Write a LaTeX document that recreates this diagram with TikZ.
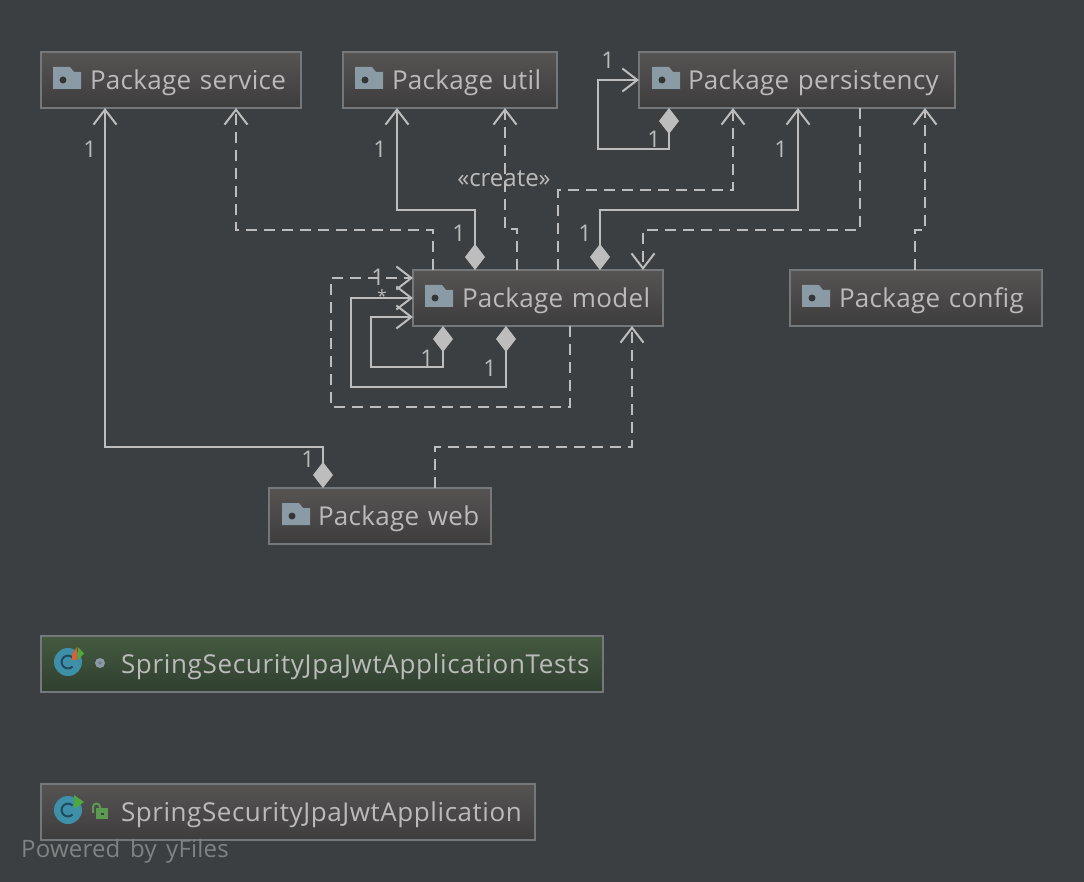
\documentclass[tikz,border=0pt]{standalone}
\usepackage{fontspec}
\setmainfont{Open Sans}
\newfontface\pkgfont[LetterSpace=1.2]{Open Sans}
\newfontface\clsfont[LetterSpace=2.6]{Open Sans}
\newfontface\appfont[LetterSpace=2.2]{Open Sans}
\newfontface\yffont[LetterSpace=0.8,WordSpace=1.5]{Open Sans}
\usetikzlibrary{arrows.meta}
\definecolor{bg}{HTML}{3C3F41}
\definecolor{tx}{HTML}{BBBBBB}
\definecolor{bd}{HTML}{75787A}
\definecolor{ln}{HTML}{BDBDBD}
\definecolor{fold}{HTML}{8A9BA6}
\definecolor{teal1}{HTML}{3E8FA8}
\definecolor{tealdk}{HTML}{1F4A60}
\definecolor{pkgtop}{HTML}{565353}
\definecolor{pkgbot}{HTML}{3E3D3D}
\definecolor{grntop}{HTML}{45593F}
\definecolor{grnbot}{HTML}{2F4030}
\definecolor{gr1}{HTML}{4FA83C}
\definecolor{gr2}{HTML}{5B9A50}
\definecolor{or1}{HTML}{D9622B}
\tikzset{
  box/.style={anchor=north west,draw=bd,line width=2pt,inner sep=0pt,outer sep=0pt,minimum height=56pt,align=left,text=tx},
  pkg/.style={box,top color=pkgtop,bottom color=pkgbot,font=\fontsize{26}{30}\pkgfont},
  cls/.style={box,top color=pkgtop,bottom color=pkgbot,font=\fontsize{26}{30}\appfont},
  grn/.style={box,top color=grntop,bottom color=grnbot,font=\fontsize{26}{30}\clsfont},
  edge/.style={draw=ln,line width=2pt},
  opn/.style={-{Straight Barb[length=15pt,width=23pt,line width=2pt]}},
  dsh/.style={edge,opn,dash pattern=on 11pt off 7pt},
  comp/.style={edge,{Diamond[length=26pt,width=20pt,fill=ln,line width=0pt]}-{Straight Barb[length=15pt,width=23pt,line width=2pt]}},
  card/.style={text=tx,font=\fontsize{23}{26}\selectfont,inner sep=0pt}
}
\newcommand{\foldericon}[2]{%
  \fill[fold] (#1,#2-12) -- (#1+17,#2-12) -- (#1+21,#2-7) -- (#1+28,#2-7) -- (#1+28,#2+10) -- (#1,#2+10) -- cycle;
  \fill[bg!85!black] (#1+10,#2+1) circle (3.5);}
\begin{document}
\begin{tikzpicture}[x=1pt,y=-1pt]
\useasboundingbox (0,0) rectangle (1084,882);
\fill[bg] (0,0) rectangle (1084,882);
\node[pkg,minimum width=260pt,text width=260pt] (service) at (41,52) {\rule{0pt}{25pt}\hspace*{49pt}Package service};
\node[pkg,minimum width=214pt,text width=214pt] (util) at (343,52) {\rule{0pt}{25pt}\hspace*{49pt}Package util};
\node[pkg,minimum width=316pt,text width=316pt] (persist) at (639,52) {\rule{0pt}{25pt}\hspace*{49pt}Package persistency};
\node[pkg,minimum width=250pt,text width=250pt] (model) at (413,270) {\rule{0pt}{25pt}\hspace*{49pt}Package model};
\node[pkg,minimum width=252pt,text width=252pt] (config) at (790,270) {\rule{0pt}{25pt}\hspace*{49pt}Package config};
\node[pkg,minimum width=222pt,text width=222pt] (web) at (269,488) {\rule{0pt}{25pt}\hspace*{49pt}Package web};
\node[grn,minimum width=562pt,text width=562pt] (tests) at (41,636) {\rule{0pt}{25pt}\hspace*{80pt}SpringSecurityJpaJwtApplicationTests};
\node[cls,minimum width=494pt,text width=494pt] (app) at (41,784) {\rule{0pt}{25pt}\hspace*{80pt}SpringSecurityJpaJwtApplication};
\foldericon{53}{79}\foldericon{355}{79}\foldericon{652}{79}\foldericon{425}{297}\foldericon{802}{297}\foldericon{282}{515}
% connectors
\draw[comp] ([xshift=54pt]web.north west) -- (323,447) -- (105,447) -- ([xshift=64pt]service.south west);
\draw[dsh] ([xshift=20pt]model.north west) -- (433,230) -- (236,230) -- ([xshift=195pt]service.south west);
\draw[comp] ([xshift=62pt]model.north west) -- (475,210) -- (397,210) -- ([xshift=54pt]util.south west);
\draw[dsh] ([xshift=104pt]model.north west) -- (517,229) -- (505,229) -- ([xshift=162pt]util.south west);
\draw[dsh] ([xshift=145pt]model.north west) -- (558,190) -- (733,190) -- ([xshift=94pt]persist.south west);
\draw[comp] ([xshift=187pt]model.north west) -- (600,210) -- (798,210) -- ([xshift=159pt]persist.south west);
\draw[dsh] ([xshift=221pt]persist.south west) -- (860,230) -- (643,230) -- ([xshift=230pt]model.north west);
\draw[dsh] ([xshift=125pt]config.north west) -- (915,230) -- (925,230) -- ([xshift=286pt]persist.south west);
\draw[comp] ([xshift=30pt]persist.south west) -- (669,149) -- (598,149) -- (598,80) -- (persist.west);
\draw[comp] ([xshift=30pt]model.south west) -- (443,367) -- (371,367) -- (371,317) -- ([yshift=-19pt]model.west);
\draw[comp] ([xshift=93pt]model.south west) -- (506,387) -- (351,387) -- (351,298) -- (model.west);
\draw[dsh] ([xshift=157pt]model.south west) -- (570,407) -- (331,407) -- (331,278) -- ([yshift=20pt]model.west);
\draw[dsh] ([xshift=166pt]web.north west) -- (435,447) -- (632,447) -- ([xshift=219pt]model.south west);
% labels
\node[card] (l1) at (90,149) {1};
\node[card] (l2) at (308,459) {1};
\node[card] (l3) at (380,149) {1};
\node[card] (l4) at (459,233) {1};
\node[card] (l5) at (585,233) {1};
\node[card] (l6) at (781,149) {1};
\node[card] (l7) at (608,60) {1};
\node[card] (l8) at (654,139) {1};
\node[card] (l9) at (378,277) {1};
\node[card,font=\fontsize{17}{20}\selectfont] (l10) at (382,296) {*};
\node[card] (l11) at (427,358) {1};
\node[card] (l12) at (490,368) {1};
\node[card,font=\fontsize{24}{26}\selectfont] (create) at (504,179) {«create»};
% class icons
\fill[teal1] (68,662) circle (14);
\draw[tealdk,line width=2pt] (72.5,657.5) arc (-45:-315:6.4);
\fill[gr1] (78,647) -- (84,653.5) -- (78,660) -- cycle;
\fill[or1] (72,654) -- (77,647) -- (77,660) -- (72,660) -- cycle;
\fill[fold] (100,663) circle (5);
\fill[bg!70!white] (100,663) circle (1.8);
\fill[teal1] (68,810) circle (14);
\draw[tealdk,line width=2pt] (72.5,805.5) arc (-45:-315:6.4);
\fill[gr1] (74,795) -- (84,802) -- (74,809) -- cycle;
\fill[gr2] (96,808) rectangle (108,819);
\draw[gr2,line width=2pt] (93,813) -- (93,807) arc (180:360:3.5) -- (100,809);
\fill[bg] (101,813) rectangle (104,815);
\node[anchor=west,inner sep=0pt,text=bg!65!white,font=\fontsize{24}{28}\yffont] (yf) at (21,851) {Powered by yFiles};
\end{tikzpicture}
\end{document}
